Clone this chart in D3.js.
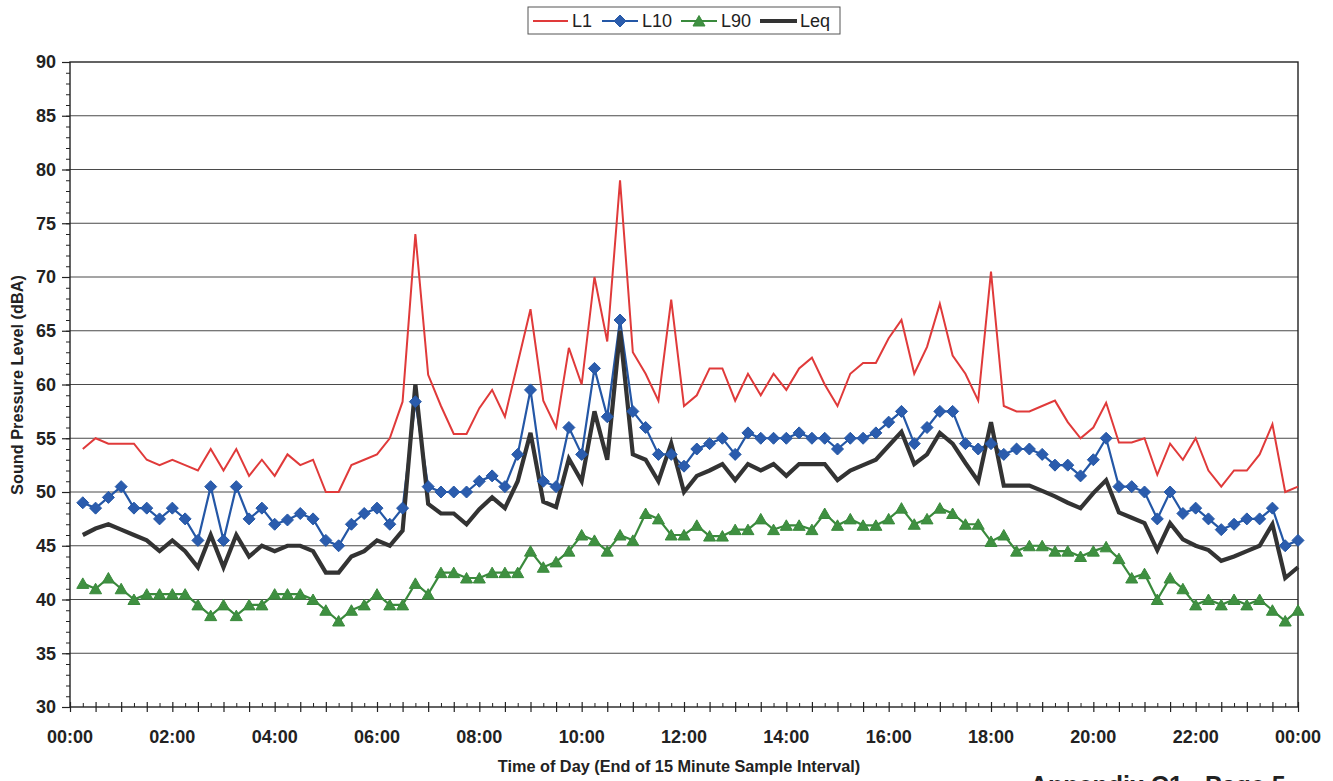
<!DOCTYPE html>
<html>
<head>
<meta charset="utf-8">
<script src="https://cdn.jsdelivr.net/npm/d3@7"></script>
<style>
  body { margin: 0; background: #fff; }
  svg { display: block; font-family: Arial, "Liberation Sans", sans-serif; }
</style>
</head>
<body>
<svg id="chart" width="1333" height="781"></svg>
<script>
// 15-minute sound level statistics, one value per interval ending 00:15 ... 24:00
const L1 = [
  54, 55, 54.5, 54.5, 54.5, 53, 52.5, 53, 52.5, 52, 54, 52, 54, 51.5, 53, 51.5,
  53.5, 52.5, 53, 50, 50, 52.5, 53, 53.5, 55, 58.4, 74, 60.9, 58, 55.4, 55.4, 57.8,
  59.5, 57, 62, 67, 58.5, 56, 63.4, 60, 70, 64, 79, 63, 61, 58.5, 67.9, 58,
  59, 61.5, 61.5, 58.5, 61, 59, 61, 59.5, 61.5, 62.5, 60, 58, 61, 62, 62, 64.3,
  66, 61, 63.5, 67.5, 62.7, 61, 58.5, 70.5, 58, 57.5, 57.5, 58, 58.5, 56.5, 55, 56,
  58.3, 54.6, 54.6, 55, 51.6, 54.5, 53, 55, 52, 50.5, 52, 52, 53.5, 56.3, 50, 50.5
];
const L10 = [
  49, 48.5, 49.5, 50.5, 48.5, 48.5, 47.5, 48.5, 47.5, 45.5, 50.5, 45.5, 50.5, 47.5, 48.5, 47,
  47.4, 48, 47.5, 45.5, 45, 47, 48, 48.5, 47, 48.5, 58.4, 50.5, 50, 50, 50, 51,
  51.5, 50.5, 53.5, 59.5, 51, 50.5, 56, 53.5, 61.5, 57, 66, 57.5, 56, 53.5, 53.5, 52.4,
  54, 54.5, 55, 53.5, 55.5, 55, 55, 55, 55.5, 55, 55, 54, 55, 55, 55.5, 56.5,
  57.5, 54.5, 56, 57.5, 57.5, 54.5, 54, 54.5, 53.5, 54, 54, 53.5, 52.5, 52.5, 51.5, 53,
  55, 50.5, 50.5, 50, 47.5, 50, 48, 48.5, 47.5, 46.5, 47, 47.5, 47.5, 48.5, 45, 45.5
];
const L90 = [
  41.5, 41, 42, 41, 40, 40.5, 40.5, 40.5, 40.5, 39.5, 38.5, 39.5, 38.5, 39.5, 39.5, 40.5,
  40.5, 40.5, 40, 39, 38, 39, 39.5, 40.5, 39.5, 39.5, 41.5, 40.5, 42.5, 42.5, 42, 42,
  42.5, 42.5, 42.5, 44.5, 43, 43.5, 44.5, 46, 45.5, 44.5, 46, 45.5, 48, 47.5, 46, 46,
  46.9, 45.9, 45.9, 46.5, 46.5, 47.5, 46.5, 46.9, 46.9, 46.5, 48, 46.9, 47.5, 46.9, 46.9, 47.5,
  48.5, 47, 47.5, 48.5, 48, 47, 47, 45.4, 46, 44.5, 45, 45, 44.5, 44.5, 44, 44.5,
  44.9, 43.8, 42, 42.4, 40, 42, 41, 39.5, 40, 39.5, 40, 39.5, 40, 39, 38, 39
];
const Leq = [
  46, 46.6, 47, 46.5, 46, 45.5, 44.5, 45.5, 44.5, 43, 46, 43, 46, 44, 45, 44.5,
  45, 45, 44.5, 42.5, 42.5, 44, 44.5, 45.5, 45, 46.4, 60, 48.9, 48, 48, 47, 48.4,
  49.5, 48.5, 51, 55.5, 49.1, 48.6, 53.1, 51, 57.5, 53, 65, 53.5, 53, 51, 54.5, 50,
  51.5, 52, 52.6, 51.1, 52.6, 52, 52.6, 51.5, 52.6, 52.6, 52.6, 51.1, 52, 52.5, 53, 54.3,
  55.6, 52.6, 53.5, 55.5, 54.5, 52.7, 51, 56.5, 50.6, 50.6, 50.6, 50.1, 49.6, 49, 48.5, 49.9,
  51.1, 48.1, 47.6, 47.1, 44.6, 47.1, 45.6, 45, 44.6, 43.6, 44, 44.5, 45, 47, 42, 43
];
const timeLabels = ["00:00", "02:00", "04:00", "06:00", "08:00", "10:00", "12:00",
                    "14:00", "16:00", "18:00", "20:00", "22:00", "00:00"];
const yTicks = [30, 35, 40, 45, 50, 55, 60, 65, 70, 75, 80, 85, 90];
const seriesNames = ["L1", "L10", "L90", "Leq"];

// minutes since midnight at the end of each interval
const minutes = L1.map((_, i) => (i + 1) * 15);

const svg = d3.select("#chart");
const ink = "#222";

const x = d3.scaleLinear().domain([0, 1440]).range([70, 1298]);
const y = d3.scaleLinear().domain([30, 90]).range([707, 62]);

// horizontal gridlines
svg.append("g")
  .selectAll("line")
  .data(yTicks.filter(v => v > 30 && v < 90))
  .join("line")
  .attr("x1", x(0)).attr("x2", x(1440))
  .attr("y1", d => y(d)).attr("y2", d => y(d))
  .attr("stroke", "#4a4a4a").attr("stroke-width", 1);

// plot frame
svg.append("rect")
  .attr("x", x(0)).attr("y", y(90))
  .attr("width", x(1440) - x(0)).attr("height", y(30) - y(90))
  .attr("fill", "none").attr("stroke", ink).attr("stroke-width", 1.4);

// y axis: minor ticks each dB, major ticks with labels every 5 dB
svg.append("g")
  .attr("transform", `translate(${x(0)},0)`)
  .call(d3.axisLeft(y).tickValues(d3.range(30, 91, 1)).tickSize(4).tickFormat(""))
  .call(g => g.select(".domain").remove())
  .call(g => g.selectAll("line").attr("stroke", ink));

const yAxis = svg.append("g")
  .attr("transform", `translate(${x(0)},0)`)
  .call(d3.axisLeft(y).tickValues(yTicks).tickSize(8).tickPadding(6).tickFormat(d3.format("d")));
yAxis.select(".domain").remove();
yAxis.selectAll("line").attr("stroke", ink).attr("stroke-width", 1.2);
yAxis.selectAll("text")
  .attr("fill", ink).attr("font-size", 18).attr("font-weight", "bold")
  .attr("font-family", "Arial, 'Liberation Sans', sans-serif");

// x axis: 15-minute minor ticks inside, 30-minute major ticks crossing the axis
const xAxisG = svg.append("g").attr("transform", `translate(0,${y(30)})`);
xAxisG.call(d3.axisBottom(x).tickValues(d3.range(15, 1440, 30)).tickSize(0).tickFormat(""))
  .call(g => g.select(".domain").remove());
xAxisG.selectAll(".tick line").attr("y1", -4).attr("y2", 0).attr("stroke", ink);

const xMajor = svg.append("g").attr("transform", `translate(0,${y(30)})`);
xMajor.call(d3.axisBottom(x).tickValues(d3.range(0, 1441, 30)).tickSize(0).tickFormat(""))
  .call(g => g.select(".domain").remove());
xMajor.selectAll(".tick line").attr("y1", -5).attr("y2", 5).attr("stroke", ink).attr("stroke-width", 1.2);

svg.append("g")
  .selectAll("text")
  .data(timeLabels)
  .join("text")
  .attr("x", (d, i) => x(i * 120))
  .attr("y", 743)
  .attr("text-anchor", "middle")
  .attr("font-size", 18).attr("font-weight", "bold").attr("fill", ink)
  .text(d => d);

// axis titles
svg.append("text")
  .attr("x", 679).attr("y", 772)
  .attr("text-anchor", "middle")
  .attr("font-size", 16.3).attr("font-weight", "bold").attr("fill", ink)
  .text("Time of Day (End of 15 Minute Sample Interval)");

svg.append("text")
  .attr("transform", "translate(23,385) rotate(-90)")
  .attr("text-anchor", "middle")
  .attr("font-size", 16.3).attr("font-weight", "bold").attr("fill", ink)
  .text("Sound Pressure Level (dBA)");

// series styling
const style = {
  L1:  { data: L1,  color: "#e03a3a", width: 2,   marker: null },
  L10: { data: L10, color: "#2457a6", width: 2.2, marker: "diamond", fill: "#2b5cad" },
  L90: { data: L90, color: "#3a8a3c", width: 2.2, marker: "triangle", fill: "#3f9041" },
  Leq: { data: Leq, color: "#333333", width: 4.2, marker: null }
};

const markerPath = {
  diamond: "M0,-6L6,0L0,6L-6,0Z",
  triangle: "M0,-5.5L6,5L-6,5Z"
};

const line = d3.line()
  .x((d, i) => x(minutes[i]))
  .y(d => y(d));

const plot = svg.append("g");
seriesNames.forEach(name => {
  const s = style[name];
  plot.append("path")
    .datum(s.data)
    .attr("fill", "none")
    .attr("stroke", s.color)
    .attr("stroke-width", s.width)
    .attr("stroke-linejoin", "miter")
    .attr("d", line);
});

seriesNames.forEach(name => {
  const s = style[name];
  if (!s.marker) return;
  plot.append("g")
    .selectAll("path")
    .data(s.data)
    .join("path")
    .attr("transform", (d, i) => `translate(${x(minutes[i])},${y(d)})`)
    .attr("d", markerPath[s.marker])
    .attr("fill", s.fill)
    .attr("stroke", s.color)
    .attr("stroke-width", 1);
});

// legend
const legend = svg.append("g");
legend.append("rect")
  .attr("x", 528).attr("y", 7).attr("width", 312).attr("height", 27)
  .attr("fill", "#fff").attr("stroke", "#555").attr("stroke-width", 1);

const legendItems = [
  { name: "L1",  x0: 533, x1: 568, tx: 572 },
  { name: "L10", x0: 602, x1: 638, tx: 642 },
  { name: "L90", x0: 681, x1: 717, tx: 721 },
  { name: "Leq", x0: 760, x1: 797, tx: 800 }
];
const ly = 21;
legendItems.forEach(it => {
  const s = style[it.name];
  legend.append("line")
    .attr("x1", it.x0).attr("x2", it.x1).attr("y1", ly).attr("y2", ly)
    .attr("stroke", s.color).attr("stroke-width", s.width);
  if (s.marker) {
    legend.append("path")
      .attr("transform", `translate(${(it.x0 + it.x1) / 2},${ly})`)
      .attr("d", markerPath[s.marker])
      .attr("fill", s.fill).attr("stroke", s.color).attr("stroke-width", 1);
  }
  legend.append("text")
    .attr("x", it.tx).attr("y", ly).attr("dy", "0.35em")
    .attr("font-size", 18).attr("fill", ink)
    .text(it.name);
});

// page footer, running off the bottom edge
svg.append("text")
  .attr("x", 1030).attr("y", 794)
  .attr("font-size", 25).attr("font-weight", "bold").attr("fill", ink)
  .text("Appendix C1 - Page 5");
</script>
</body>
</html>
